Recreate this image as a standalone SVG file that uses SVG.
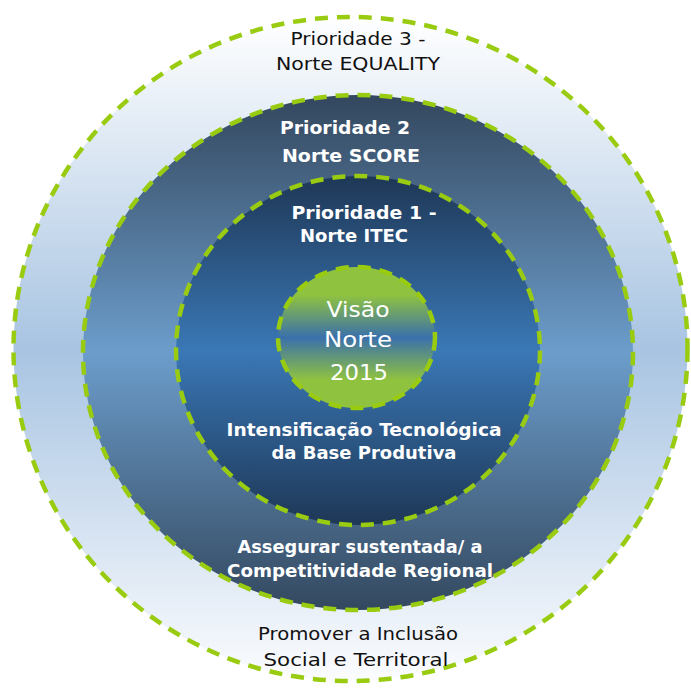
<svg xmlns="http://www.w3.org/2000/svg" width="691" height="688" viewBox="0 0 691 688">
<defs>
<linearGradient id="gOuter" x1="0" y1="0" x2="0" y2="1">
<stop offset="0" stop-color="#ffffff"/>
<stop offset="0.5" stop-color="#a8c4e2"/>
<stop offset="1" stop-color="#fbfcfe"/>
</linearGradient>
<linearGradient id="gMid" x1="0" y1="0" x2="0" y2="1">
<stop offset="0" stop-color="#33475e"/>
<stop offset="0.5" stop-color="#6c9dcb"/>
<stop offset="1" stop-color="#33485f"/>
</linearGradient>
<linearGradient id="gInner" x1="0" y1="0" x2="0" y2="1">
<stop offset="0" stop-color="#1e3756"/>
<stop offset="0.5" stop-color="#3a78b6"/>
<stop offset="1" stop-color="#1e3756"/>
</linearGradient>
<linearGradient id="gCore" x1="0" y1="0" x2="0" y2="1">
<stop offset="0.2" stop-color="#8fc23f"/>
<stop offset="0.5" stop-color="#3a70ab"/>
<stop offset="0.8" stop-color="#8fc23f"/>
</linearGradient>
</defs>
<style>
.ring{stroke:#99cc11;stroke-width:4.5;stroke-dasharray:13 9}
.dark{font-family:"DejaVu Sans","Liberation Sans",sans-serif;font-size:17px;fill:#111111;text-anchor:middle}
.light{font-family:"DejaVu Sans","Liberation Sans",sans-serif;font-size:17px;font-weight:bold;fill:#ffffff;text-anchor:middle}
.core{font-family:"DejaVu Sans","Liberation Sans",sans-serif;font-size:22px;fill:#ffffff;text-anchor:middle}
</style>
<rect width="691" height="688" fill="#ffffff"/>
<g id="ring3">
<ellipse class="ring" cx="350.5" cy="349" rx="337" ry="332" fill="url(#gOuter)"/>
<text class="dark" x="358" y="45" textLength="135" lengthAdjust="spacingAndGlyphs">Prioridade 3 -</text>
<text class="dark" x="358" y="70" textLength="164" lengthAdjust="spacingAndGlyphs">Norte EQUALITY</text>
<text class="dark" x="358" y="640" textLength="200" lengthAdjust="spacingAndGlyphs">Promover a Inclusão</text>
<text class="dark" x="356" y="666" textLength="185" lengthAdjust="spacingAndGlyphs">Social e Territoral</text>
</g>
<g id="ring2">
<ellipse class="ring" cx="358" cy="352.5" rx="275" ry="257.5" fill="url(#gMid)"/>
<text class="light" x="345" y="134" textLength="130" lengthAdjust="spacingAndGlyphs">Prioridade 2</text>
<text class="light" x="351" y="162" textLength="138" lengthAdjust="spacingAndGlyphs">Norte SCORE</text>
<text class="light" x="360" y="553" textLength="245" lengthAdjust="spacingAndGlyphs">Assegurar sustentada/ a</text>
<text class="light" x="360" y="577" textLength="266" lengthAdjust="spacingAndGlyphs">Competitividade Regional</text>
</g>
<g id="ring1">
<ellipse class="ring" cx="358" cy="350.5" rx="182" ry="174.5" fill="url(#gInner)"/>
<text class="light" x="364" y="219" textLength="145" lengthAdjust="spacingAndGlyphs">Prioridade 1 -</text>
<text class="light" x="354" y="242" textLength="108" lengthAdjust="spacingAndGlyphs">Norte ITEC</text>
<text class="light" x="364" y="436" textLength="275" lengthAdjust="spacingAndGlyphs">Intensificação Tecnológica</text>
<text class="light" x="364" y="459" textLength="185" lengthAdjust="spacingAndGlyphs">da Base Produtiva</text>
</g>
<g id="core">
<ellipse class="ring" cx="356.5" cy="337.5" rx="78.5" ry="70.5" fill="url(#gCore)"/>
<text class="core" x="358" y="317" textLength="63" lengthAdjust="spacingAndGlyphs">Visão</text>
<text class="core" x="358" y="347" textLength="68" lengthAdjust="spacingAndGlyphs">Norte</text>
<text class="core" x="359" y="380" textLength="58" lengthAdjust="spacingAndGlyphs">2015</text>
</g>
</svg>
